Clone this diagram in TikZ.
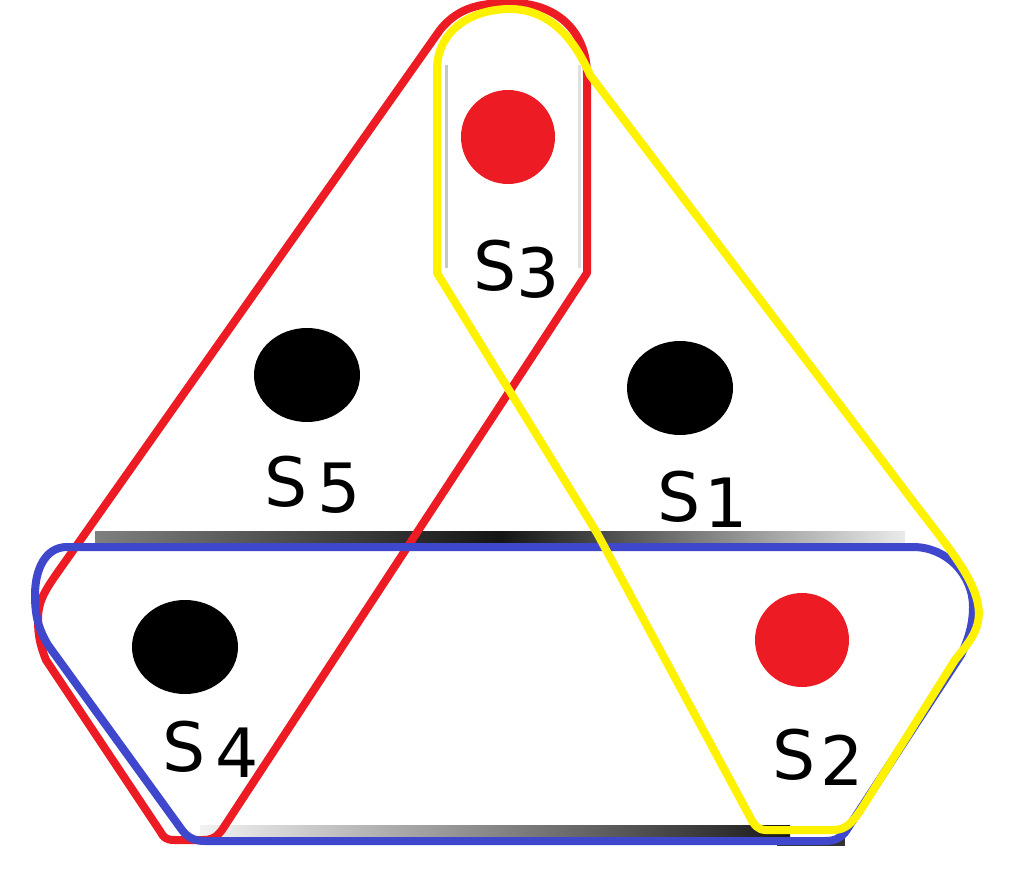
\documentclass[tikz,border=0pt]{standalone}
\usepackage{fontspec}
\setmainfont{DejaVu Sans}
\usetikzlibrary{shapes.geometric}
\definecolor{pred}{HTML}{ED1C24}
\definecolor{pyel}{HTML}{FFF200}
\definecolor{pblue}{HTML}{3F48CC}
\tikzset{
  loopline/.style={line width=8pt, line join=round},
  blackdot/.style={ellipse, fill=black, draw=none, minimum width=106pt, minimum height=94pt, inner sep=0pt},
  reddot/.style={circle, fill=pred, draw=none, minimum size=94pt, inner sep=0pt},
  lab/.style={anchor=base west, inner sep=0pt, font=\fontsize{68}{80}\selectfont},
}
\begin{document}
\begin{tikzpicture}[x=1pt,y=-1pt]
\useasboundingbox (0,0) rectangle (1022,882);
\fill[white] (0,0) rectangle (1022,882);
% grey shadow bands
\shade[left color=black!50, right color=black!8, middle color=black!92] (95,531) rectangle (905,542);
\shade[left color=black!5, right color=black!90] (200,825) rectangle (790,836);
\fill[black!80] (777,838) rectangle (845,846);
\draw[black!22, line width=3pt] (446,65) -- (446,268);
\draw[black!12, line width=3pt] (579,65) -- (579,268);
% dots
\node[reddot] (d3) at (508,137) {};
\node[blackdot] (d5) at (307,375) {};
\node[blackdot] (d1) at (680,388) {};
\node[blackdot] (d4) at (185,647) {};
\node[reddot] (d2) at (802,640) {};
% red loop
\draw[loopline, pred] (587,273) -- (587,75) .. controls (587,30) and (555,3) .. (512,3)
  .. controls (485,3) and (460,5) .. (440,30) -- (65,562)
  .. controls (45,590) and (38,600) .. (38,620) .. controls (38,635) and (40,645) .. (46,660)
  -- (160,831) .. controls (163,837) and (166,840) .. (174,840) -- (203,840)
  .. controls (211,840) and (216,838) .. (222,830) -- cycle;
% blue loop
\draw[loopline, pblue] (67,547) -- (913,547) .. controls (946,547) and (973,574) .. (973,607)
  .. controls (973,625) and (968,640) .. (961,655) -- (846,831)
  .. controls (841,838) and (835,841) .. (825,841) -- (205,841)
  .. controls (195,841) and (188,838) .. (182,830) -- (48,645)
  .. controls (38,628) and (35,615) .. (35,595) .. controls (35,570) and (45,547) .. (67,547) -- cycle;
% yellow loop
\draw[loopline, pyel] (437,273) -- (437,70) .. controls (437,30) and (472,9) .. (510,9)
  .. controls (545,9) and (572,33) .. (590,75) -- (900,484)
  .. controls (945,545) and (985,585) .. (978,622) .. controls (975,636) and (966,646) .. (955,660)
  -- (862,808) .. controls (852,823) and (846,830) .. (833,830) -- (766,830)
  .. controls (758,830) and (754,825) .. (750,817) -- (597,533) -- cycle;
% labels
\node[lab] (s3) at (473,291) {S\raisebox{-6pt}{3}};
\node[lab] (s5) at (264,506) {S\kern10pt\raisebox{-6pt}{5}};
\node[lab] (s1) at (657,521) {S\kern4pt\raisebox{-6pt}{1}};
\node[lab] (s4) at (162,771) {S\kern10pt\raisebox{-6pt}{4}};
\node[lab] (s2) at (772,779) {S\kern5pt\raisebox{-6pt}{2}};
\end{tikzpicture}
\end{document}
